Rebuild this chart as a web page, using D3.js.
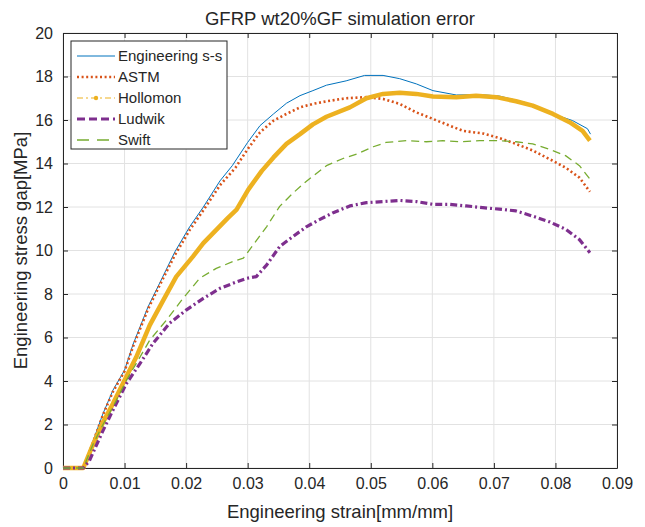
<!DOCTYPE html>
<html>
<head>
<meta charset="utf-8">
<script src="https://cdn.jsdelivr.net/npm/d3@7"></script>
<style>
  body { margin: 0; background: #fff; }
  text { font-family: "Liberation Sans", Arial, Helvetica, sans-serif; fill: #262626; }
</style>
</head>
<body>
<div id="chart"></div>
<script>
// strain [mm/mm] and stress gap [MPa]
var engX = [0, 0.0033, 0.0049, 0.0065, 0.0081, 0.01, 0.0114, 0.0138, 0.0157, 0.0182, 0.0206, 0.0228, 0.0255, 0.0275, 0.03, 0.032, 0.0342, 0.0363, 0.0385, 0.0406, 0.0428, 0.046, 0.049, 0.052, 0.0547, 0.0574, 0.0601, 0.0639, 0.0677, 0.0709, 0.0752, 0.0796, 0.0828, 0.0852, 0.0857]
var engY = [0, 0, 1.26, 2.5, 3.57, 4.5, 5.7, 7.4, 8.5, 9.95, 11.1, 12.0, 13.2, 13.9, 14.97, 15.74, 16.28, 16.77, 17.12, 17.35, 17.6, 17.8, 18.05, 18.05, 17.9, 17.66, 17.35, 17.15, 17.17, 17.1, 16.8, 16.28, 15.97, 15.6, 15.35]

var astmX = [0, 0.0033, 0.0049, 0.0065, 0.0081, 0.01, 0.0114, 0.0138, 0.0157, 0.0182, 0.0206, 0.0228, 0.0255, 0.028, 0.03, 0.032, 0.0342, 0.0363, 0.0385, 0.0406, 0.0428, 0.046, 0.0493, 0.052, 0.0547, 0.0574, 0.0601, 0.0628, 0.065, 0.0682, 0.0709, 0.0736, 0.0763, 0.0796, 0.0817, 0.0839, 0.0856]
var astmY = [0, 0, 1.2, 2.45, 3.5, 4.45, 5.6, 7.3, 8.4, 9.8, 10.95, 11.85, 13.0, 13.8, 14.66, 15.43, 15.97, 16.28, 16.58, 16.74, 16.86, 17.0, 17.05, 16.97, 16.74, 16.35, 16.05, 15.74, 15.5, 15.38, 15.17, 14.9, 14.6, 14.12, 13.8, 13.35, 12.7]

var holX = [0, 0.0033, 0.0049, 0.0065, 0.0081, 0.01, 0.0119, 0.0141, 0.0163, 0.0184, 0.0211, 0.0228, 0.0249, 0.0268, 0.0282, 0.0301, 0.0323, 0.0342, 0.0363, 0.0385, 0.0406, 0.0428, 0.0466, 0.0493, 0.052, 0.0547, 0.0574, 0.0601, 0.0639, 0.0671, 0.0704, 0.0736, 0.0763, 0.0796, 0.0823, 0.0844, 0.0856]
var holY = [0, 0, 1.1, 2.1, 2.95, 4.03, 5.1, 6.57, 7.72, 8.8, 9.72, 10.34, 10.95, 11.5, 11.88, 12.8, 13.66, 14.28, 14.9, 15.35, 15.8, 16.15, 16.58, 17.0, 17.2, 17.25, 17.2, 17.08, 17.05, 17.12, 17.05, 16.86, 16.66, 16.28, 15.9, 15.5, 15.05]

var ludX = [0, 0.0033, 0.0043, 0.0065, 0.0081, 0.0103, 0.0125, 0.0146, 0.0173, 0.02, 0.0228, 0.0255, 0.0276, 0.0298, 0.0314, 0.0331, 0.0352, 0.0374, 0.0396, 0.0412, 0.0439, 0.0466, 0.0493, 0.052, 0.0547, 0.0574, 0.0601, 0.0628, 0.0655, 0.0682, 0.0709, 0.0736, 0.0763, 0.079, 0.0817, 0.0839, 0.0856]
var ludY = [0, 0, 0.34, 1.72, 2.65, 3.88, 4.8, 5.72, 6.65, 7.26, 7.8, 8.26, 8.49, 8.72, 8.8, 9.34, 10.18, 10.65, 11.1, 11.35, 11.74, 12.05, 12.2, 12.25, 12.3, 12.25, 12.12, 12.12, 12.05, 11.97, 11.9, 11.82, 11.58, 11.32, 10.97, 10.5, 9.9]

var swiftX = [0, 0.0033, 0.0049, 0.0065, 0.0081, 0.0103, 0.0125, 0.0141, 0.0168, 0.0195, 0.0222, 0.0249, 0.0276, 0.0293, 0.0309, 0.0331, 0.0352, 0.0374, 0.0396, 0.0428, 0.0455, 0.0477, 0.0504, 0.0525, 0.0558, 0.059, 0.0617, 0.0644, 0.0677, 0.0709, 0.0736, 0.0763, 0.079, 0.0817, 0.0839, 0.0856]
var swiftY = [0, 0, 1.1, 2.0, 2.8, 4.03, 5.1, 5.88, 6.8, 7.8, 8.72, 9.18, 9.49, 9.65, 10.26, 11.1, 12.03, 12.65, 13.2, 13.9, 14.23, 14.43, 14.77, 14.97, 15.05, 15.0, 15.05, 15.0, 15.05, 15.05, 15.0, 14.9, 14.66, 14.35, 13.9, 13.28]

var seriesNames = ["Engineering s-s", "ASTM", "Hollomon", "Ludwik", "Swift"]
var xTicks = [0, 0.01, 0.02, 0.03, 0.04, 0.05, 0.06, 0.07, 0.08, 0.09]
var yTicks = [0, 2, 4, 6, 8, 10, 12, 14, 16, 18, 20]

var styles = [
    {color: "#0072BD", width: 1, dash: null},
    {color: "#D95319", width: 2.6, dash: "2,2.6"},
    {color: "#EDB120", width: 4.5, dash: null},
    {color: "#7E2F8E", width: 3.2, dash: "7,3,2,3"},
    {color: "#77AC30", width: 1.3, dash: "8,5"}
]

var allX = [engX, astmX, holX, ludX, swiftX]
var allY = [engY, astmY, holY, ludY, swiftY]

var width = 645, height = 527
var margin = {top: 33, right: 28, bottom: 59, left: 63}
var w = width - margin.left - margin.right
var h = height - margin.top - margin.bottom

var svg = d3.select("#chart").append("svg")
    .attr("width", width)
    .attr("height", height)

var x = d3.scaleLinear().domain([0, 0.09]).range([margin.left, margin.left + w])
var y = d3.scaleLinear().domain([0, 20]).range([margin.top + h, margin.top])

// grid
svg.append("g").selectAll("line.gx")
    .data(xTicks)
    .enter().append("line")
    .attr("x1", d => x(d)).attr("x2", d => x(d))
    .attr("y1", y(0)).attr("y2", y(20))
    .attr("stroke", "#e2e2e2").attr("stroke-width", 1)
svg.append("g").selectAll("line.gy")
    .data(yTicks)
    .enter().append("line")
    .attr("y1", d => y(d)).attr("y2", d => y(d))
    .attr("x1", x(0)).attr("x2", x(0.09))
    .attr("stroke", "#e2e2e2").attr("stroke-width", 1)

// axes (MATLAB style, ticks inward on all sides)
var fmt = d => d === 0 ? "0" : String(d)
var xAxis = svg.append("g")
    .attr("transform", "translate(0," + y(0) + ")")
    .call(d3.axisBottom(x).tickValues(xTicks).tickSizeInner(-5).tickSizeOuter(0).tickPadding(10).tickFormat(fmt))
var xAxisTop = svg.append("g")
    .attr("transform", "translate(0," + y(20) + ")")
    .call(d3.axisTop(x).tickValues(xTicks).tickSizeInner(-5).tickSizeOuter(0).tickFormat(""))
var yAxis = svg.append("g")
    .attr("transform", "translate(" + x(0) + ",0)")
    .call(d3.axisLeft(y).tickValues(yTicks).tickSizeInner(-5).tickSizeOuter(0).tickPadding(10).tickFormat(fmt))
var yAxisRight = svg.append("g")
    .attr("transform", "translate(" + x(0.09) + ",0)")
    .call(d3.axisRight(y).tickValues(yTicks).tickSizeInner(-5).tickSizeOuter(0).tickFormat(""))

svg.selectAll(".domain").attr("stroke", "#262626").attr("stroke-width", 1)
svg.selectAll(".tick line").attr("stroke", "#262626")
svg.selectAll(".tick text")
    .style("font-size", "16px")
    .style("font-family", "'Liberation Sans', Arial, sans-serif")
    .attr("fill", "#262626")

// curves
var line = d3.line()
    .x(d => x(d[0]))
    .y(d => y(d[1]))

for (var i = 0; i < seriesNames.length; i++) {
    var pts = allX[i].map((v, j) => [v, allY[i][j]])
    svg.append("path")
        .datum(pts)
        .attr("d", line)
        .attr("fill", "none")
        .attr("stroke", styles[i].color)
        .attr("stroke-width", styles[i].width)
        .attr("stroke-linejoin", "round")
        .attr("stroke-dasharray", styles[i].dash)
}

// title and labels
svg.append("text")
    .attr("x", x(0.045)).attr("y", 25)
    .attr("text-anchor", "middle")
    .style("font-size", "18.5px")
    .text("GFRP wt20%GF simulation error")
svg.append("text")
    .attr("x", x(0.045)).attr("y", 518)
    .attr("text-anchor", "middle")
    .style("font-size", "18.5px")
    .text("Engineering strain[mm/mm]")
svg.append("text")
    .attr("transform", "translate(27," + y(10) + ") rotate(-90)")
    .attr("text-anchor", "middle")
    .style("font-size", "18.5px")
    .text("Engineering stress gap[MPa]")

// legend
var legend = svg.append("g")
legend.append("rect")
    .attr("x", 71).attr("y", 41)
    .attr("width", 156).attr("height", 108)
    .attr("fill", "#fff")
    .attr("stroke", "#262626").attr("stroke-width", 1)

var legendStyles = [
    {color: "#0072BD", width: 1, dash: null},
    {color: "#D95319", width: 2.6, dash: "2,2.6"},
    {color: "#EDB120", width: 1, dash: "6,3,2,3"},
    {color: "#7E2F8E", width: 3.2, dash: "8,4"},
    {color: "#77AC30", width: 1.3, dash: "12,8"}
]

seriesNames.forEach(function(name, i) {
    var ly = 56 + i * 21
    legend.append("line")
        .attr("x1", 77).attr("x2", 115)
        .attr("y1", ly).attr("y2", ly)
        .attr("stroke", legendStyles[i].color)
        .attr("stroke-width", legendStyles[i].width)
        .attr("stroke-dasharray", legendStyles[i].dash)
    if (name == "Hollomon") {
        legend.append("circle")
            .attr("cx", 96).attr("cy", ly).attr("r", 2.2)
            .attr("fill", legendStyles[i].color)
    }
    legend.append("text")
        .attr("x", 118).attr("y", ly + 5)
        .style("font-size", "15px")
        .text(name)
})
</script>
</body>
</html>
